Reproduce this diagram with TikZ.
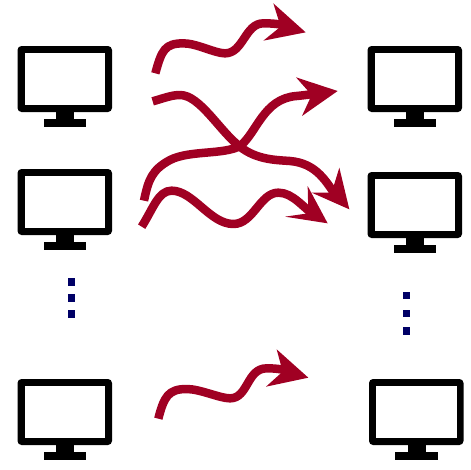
\documentclass[tikz,border=0pt]{standalone}
\usetikzlibrary{calc}
\definecolor{flow}{RGB}{160,0,35}
\definecolor{dotblue}{RGB}{0,0,102}
\tikzset{
  x=1pt,y=-1pt,
  flowline/.style={draw=flow,line width=8.5pt,line cap=butt,line join=round},
  flowhead/.style={fill=flow,draw=none},
  zoomed/.style={shift={(130,0)},x=0.33333pt,y=-0.33333pt},
  zoomedb/.style={shift={(140,340)},x=0.33333pt,y=-0.33333pt},
  dotmark/.style={fill=dotblue,draw=none,minimum size=7.5pt,inner sep=0pt,shape=rectangle},
  pics/monitor/.style={code={
    \fill[black,rounded corners=4pt] (17.5,46) rectangle (112,112);
    \fill[white] (24.5,53) rectangle (105,105);
    \fill[black] (56,112) rectangle (74,119);
    \fill[black] (43.5,119) rectangle (86,127);
  }}
}
\newcommand{\flowtip}[4]{\fill[flowhead] #1 -- #2 -- #3 -- #4 -- cycle;}
\begin{document}
\begin{tikzpicture}
\useasboundingbox (0,0) rectangle (471,469);
\pic (la) at (0,0) {monitor};
\pic (lb) at (0,123) {monitor};
\pic (lc) at (0,333) {monitor};
\pic (ra) at (350,0) {monitor};
\pic (rb) at (350,126) {monitor};
\pic (rc) at (351.5,333) {monitor};
\foreach \n/\a/\b in {l1/71.5/282,l2/71.5/298,l3/71.5/314,r1/406.7/295.7,r2/406.7/313.5,r3/406.7/331}
  \node[dotmark] (\n) at (\a,\b) {};
\begin{scope}[zoomed]
\draw[flowline] (76,220) .. controls (95,150) and (105,130) .. (160,130) .. controls (200,130) and (255,160) .. (285,160) .. controls (340,160) and (345,70) .. (400,70) .. controls (430,70) and (450,72) .. (480,80);
\flowtip{(527,97)}{(430,10)}{(452,80)}{(400,122)}
\draw[flowline] (68,304) .. controls (100,295) and (125,285) .. (150,285) .. controls (210,285) and (270,395) .. (330,440) .. controls (380,480) and (440,480) .. (480,483) .. controls (560,490) and (590,545) .. (625,600);
\flowtip{(658,628)}{(628,503)}{(605,578)}{(545,578)}
\draw[flowline] (42,602) .. controls (55,540) and (65,510) .. (120,480) .. controls (180,450) and (280,465) .. (330,438) .. controls (380,400) and (400,295) .. (500,288) .. controls (530,285) and (550,282) .. (570,278);
\flowtip{(623,273)}{(498,232)}{(545,285)}{(516,348)}
\draw[flowline] (35,680) .. controls (70,625) and (85,572) .. (125,572) .. controls (190,572) and (240,672) .. (310,672) .. controls (370,672) and (390,578) .. (445,578) .. controls (490,578) and (520,625) .. (560,650);
\flowtip{(593,670)}{(533,558)}{(535,640)}{(465,650)}
\end{scope}
\begin{scope}[zoomedb]
\draw[flowline] (55,236) .. controls (72,170) and (85,147) .. (140,147) .. controls (180,147) and (240,175) .. (270,175) .. controls (325,175) and (320,85) .. (380,85) .. controls (410,85) and (430,88) .. (450,95);
\flowtip{(505,113)}{(410,28)}{(428,95)}{(378,140)}
\end{scope}
\end{tikzpicture}
\end{document}
